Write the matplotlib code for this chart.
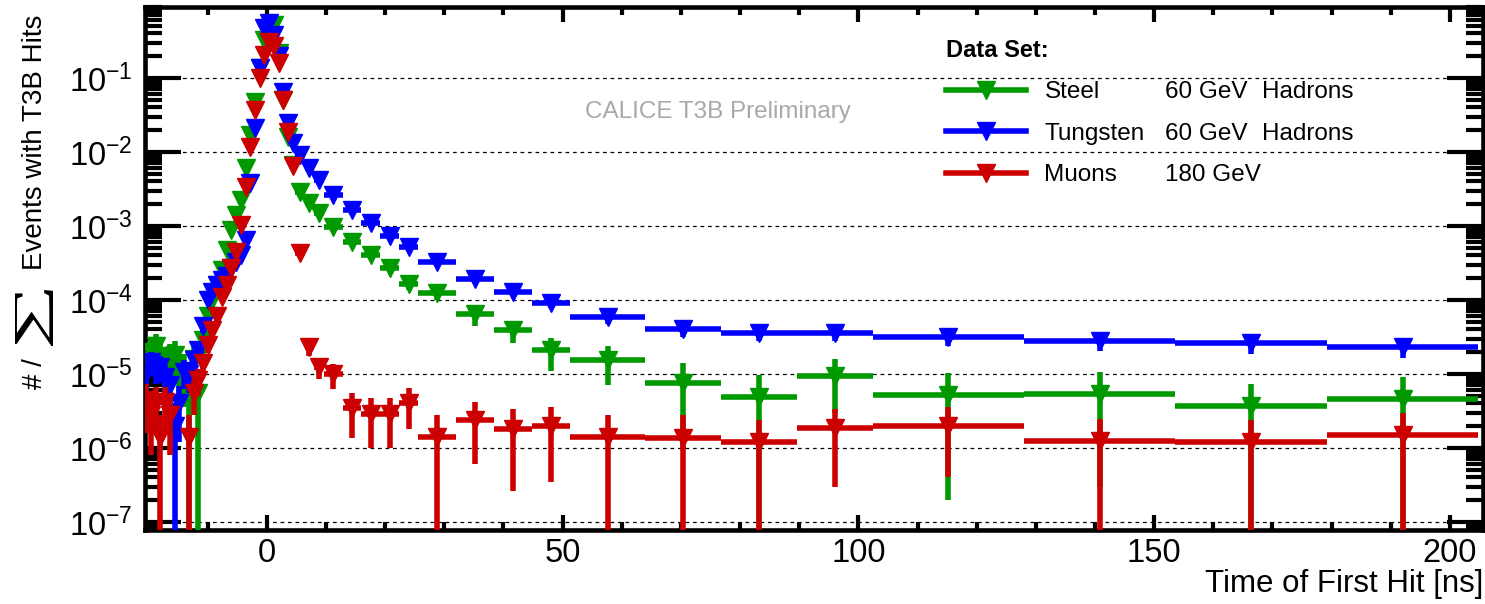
import numpy as np
import matplotlib
matplotlib.use("Agg")
import matplotlib.pyplot as plt
from matplotlib.lines import Line2D
from matplotlib.patches import PathPatch
from matplotlib.textpath import TextPath
from matplotlib.font_manager import FontProperties
from matplotlib.transforms import Affine2D
from matplotlib.ticker import MultipleLocator, FixedLocator, NullFormatter

plt.rcParams['font.family'] = ['Liberation Sans', 'DejaVu Sans']
plt.rcParams['mathtext.fontset'] = 'custom'
plt.rcParams['mathtext.rm'] = 'Liberation Sans'
plt.rcParams['mathtext.it'] = 'Liberation Sans:italic'
plt.rcParams['mathtext.bf'] = 'Liberation Sans:bold'
plt.rcParams['axes.unicode_minus'] = False

# --- bin edges of the variable-width histogram [ns] ---
edges = [-20.8, -20.0, -19.2, -18.4, -17.6, -16.8, -16.0, -15.2, -14.4, -13.6,
         -12.8, -12.0, -11.2, -10.4, -9.6, -8.8, -8.0, -7.2, -6.4, -5.6,
         -4.8, -4.0, -3.2, -2.4, -1.6, -0.8, 0.0, 0.8, 1.6, 2.4, 3.2, 4.0, 4.8,
         6.4, 8.0, 9.6, 12.8, 16.0, 19.2, 22.4, 25.6, 32.0, 38.4, 44.8, 51.2,
         64.0, 76.8, 89.6, 102.4, 128.0, 153.6, 179.2, 204.8]

# --- Steel, 60 GeV hadrons ---
steel = [1.22e-5, 2.0e-5, 2.42e-5, 1.77e-5, 1.47e-5, 1.67e-5, 1.83e-5, 1.1e-5,
         1.1e-5, 5.5e-6, 1.6e-5, 5.5e-6, 2.9e-5, 6.0e-5, 1.01e-4, 1.61e-4,
         2.56e-4, 4.77e-4, 8.9e-4, 1.41e-3, 2.25e-3, 6.07e-3, 1.69e-2, 4.71e-2,
         0.135, 0.322, 0.47, 0.513, 0.215, 0.0501, 0.0158, 0.00665,
         2.88e-3, 2.05e-3, 1.5e-3, 9.7e-4, 6.1e-4, 4.08e-4, 2.73e-4, 1.66e-4,
         1.26e-4, 6.4e-5, 3.9e-5, 2.1e-5, 1.56e-5, 7.6e-6, 4.9e-6, 9.5e-6,
         5.2e-6, 5.4e-6, 3.7e-6, 4.6e-6]
steel_err = [7.8e-6, 1.0e-5, 1.1e-5, 9.4e-6, 8.6e-6, 9.1e-6, 9.6e-6, 7.4e-6,
             7.4e-6, 5.5e-6, 8.9e-6, 5.5e-6, 1.2e-5, 1.7e-5, 2.2e-5, 2.8e-5,
             3.6e-5, 4.9e-5, 6.7e-5, 8.4e-5, 1.1e-4, 1.7e-4, 2.9e-4, 4.9e-4,
             8.2e-4, 1.3e-3, 1.5e-3, 1.6e-3, 1.0e-3, 5.0e-4, 2.8e-4, 1.8e-4,
             1.2e-4, 1.0e-4, 8.7e-5, 7.0e-5, 5.5e-5, 4.5e-5, 3.7e-5, 2.9e-5,
             2.5e-5, 1.9e-5, 1.3e-5, 1.0e-5, 8.4e-6, 6.6e-6, 4.9e-6, 6.5e-6,
             5.0e-6, 5.1e-6, 3.7e-6, 4.6e-6]

# --- Tungsten, 60 GeV hadrons ---
tungsten = [1.0e-5, 1.47e-5, 1.22e-5, 1.25e-5, 9.0e-6, 7.2e-6, 2.0e-6, 4.0e-6,
            1.08e-5, 1.0e-5, 1.57e-5, 2.14e-5, 4.5e-5, 1.01e-4, 1.29e-4, 1.61e-4,
            1.88e-4, 2.1e-4, 2.73e-4, 3.3e-4, 4.08e-4, 6.5e-4, 3.81e-3, 0.021,
            0.135, 0.47, 0.56, 0.38, 0.20, 0.064, 0.0245, 0.0132,
            0.0091, 0.0061, 0.0042, 0.0026, 1.64e-3, 1.1e-3, 7.4e-4, 5.25e-4,
            3.3e-4, 1.95e-4, 1.29e-4, 9.1e-5, 5.9e-5, 4.07e-5, 3.6e-5, 3.6e-5,
            3.2e-5, 2.8e-5, 2.6e-5, 2.34e-5]
tungsten_err = [4.5e-6, 5.4e-6, 4.9e-6, 5.0e-6, 4.2e-6, 3.8e-6, 2.0e-6, 2.8e-6,
                4.6e-6, 4.5e-6, 5.6e-6, 6.5e-6, 9.5e-6, 1.4e-5, 1.6e-5, 1.8e-5,
                1.9e-5, 2.0e-5, 2.3e-5, 2.6e-5, 2.9e-5, 3.6e-5, 8.7e-5, 2.0e-4,
                5.2e-4, 9.7e-4, 1.1e-3, 8.7e-4, 6.3e-4, 3.6e-4, 2.2e-4, 1.6e-4,
                1.3e-4, 1.1e-4, 9.2e-5, 7.2e-5, 5.7e-5, 4.7e-5, 3.8e-5, 3.2e-5,
                2.6e-5, 2.0e-5, 1.6e-5, 1.35e-5, 1.1e-5, 9.0e-6, 8.5e-6, 8.5e-6,
                8.0e-6, 7.5e-6, 7.2e-6, 6.8e-6]

# --- Muons, 180 GeV ---
nan = np.nan
muons = [4.5e-6, 2.8e-6, 4.2e-6, 1.4e-6, 4.2e-6, 2.8e-6, nan, nan,
         nan, 1.4e-6, 5.6e-6, 8.4e-6, 1.4e-5, 2.5e-5, 3.9e-5, 6.0e-5,
         1.1e-4, 1.6e-4, 2.73e-4, 4.5e-4, 1.04e-3, 3.36e-3, 0.0116, 0.0367,
         0.099, 0.202, 0.303, 0.27, 0.158, 0.050, 0.0185, 0.00645,
         4.35e-4, 2.3e-5, 1.24e-5, 1.0e-5, 3.47e-6, 2.9e-6, 2.9e-6, 4.1e-6,
         1.4e-6, 2.4e-6, 1.83e-6, 1.98e-6, 1.4e-6, 1.38e-6, 1.2e-6, 1.85e-6,
         2.0e-6, 1.25e-6, 1.2e-6, 1.5e-6]
muons_err = [2.9e-6, 2.0e-6, 2.4e-6, 1.4e-6, 2.4e-6, 2.0e-6, nan, nan,
             nan, 1.4e-6, 2.8e-6, 3.4e-6, 4.4e-6, 5.9e-6, 7.4e-6, 9.2e-6,
             1.2e-5, 1.5e-5, 2.0e-5, 2.5e-5, 3.8e-5, 6.9e-5, 1.3e-4, 2.3e-4,
             3.7e-4, 5.3e-4, 6.5e-4, 6.1e-4, 4.7e-4, 2.6e-4, 1.6e-4, 9.5e-5,
             2.5e-5, 5.7e-6, 3.9e-6, 3.8e-6, 2.1e-6, 1.9e-6, 1.9e-6, 2.3e-6,
             1.4e-6, 1.8e-6, 1.57e-6, 1.63e-6, 1.4e-6, 1.38e-6, 1.2e-6, 1.55e-6,
             1.6e-6, 1.25e-6, 1.2e-6, 1.5e-6]

names = ['Steel', 'Tungsten', 'Muons']
energies = ['60 GeV', '60 GeV', '180 GeV']
particles = ['Hadrons', 'Hadrons', '']
colors = ['#009900', '#0000ff', '#cc0000']
y_decades = [1e-7, 1e-6, 1e-5, 1e-4, 1e-3, 1e-2, 1e-1]

edges = np.array(edges)
centers = 0.5 * (edges[:-1] + edges[1:])
half_w = 0.5 * (edges[1:] - edges[:-1])

fig = plt.figure(figsize=(14.85, 6.04), dpi=100)
ax = fig.add_axes([145 / 1485, 1 - 530 / 604, 1338 / 1485, 523 / 604])
ax.set_yscale('log')

series = [(steel, steel_err), (tungsten, tungsten_err), (muons, muons_err)]
for k, ((vals, errs), col) in enumerate(zip(series, colors)):
    v = np.array(vals)
    e = np.array(errs)
    m = ~np.isnan(v)
    v, e, x, xe = v[m], e[m], centers[m], half_w[m]
    low = np.minimum(e, v - 1e-12)   # bars that reach zero run to the frame
    ax.errorbar(x, v, yerr=[low, e], xerr=xe, fmt='v', color=col, mec=col,
                ms=13, elinewidth=4, capsize=0, zorder=3 + k)

ax.set_xlim(-20.6, 205.6)
ax.set_ylim(7.8e-8, 0.91)

ax.xaxis.set_major_locator(MultipleLocator(50))
ax.xaxis.set_minor_locator(MultipleLocator(10))
minor_y = [m * d for d in [1e-8] + y_decades for m in range(2, 10)]
ax.yaxis.set_major_locator(FixedLocator(y_decades))
ax.yaxis.set_minor_locator(FixedLocator([t for t in minor_y if 7.8e-8 < t < 0.91]))
ax.yaxis.set_minor_formatter(NullFormatter())

ax.yaxis.grid(True, which='major', linestyle=(0, (3, 3)), color='black', lw=0.9)
ax.set_axisbelow(True)

for s in ax.spines.values():
    s.set_linewidth(3.3)
ax.tick_params(which='both', direction='in', top=True, right=True, width=3,
               labelsize=23.5)
ax.tick_params(axis='y', which='major', length=26, pad=9)
ax.tick_params(axis='y', which='minor', length=12)
ax.tick_params(axis='x', which='major', length=11, pad=6)
ax.tick_params(axis='x', which='minor', length=6)

ax.set_xlabel('Time of First Hit [ns]', loc='right', fontsize=22.5, labelpad=0)

# y label built from pieces; the summation sign is drawn wide like ROOT's #sum
fig.text(35 / 1485, 1 - 142 / 604, 'Events with T3B Hits', rotation=90,
         ha='center', va='center', fontsize=20)
fig.text(35 / 1485, 1 - 374 / 604, '# /', rotation=90, ha='center',
         va='center', fontsize=20)
sig = TextPath((0, 0), '\u2211', size=1, prop=FontProperties(family='Liberation Serif'))
ext = sig.get_extents()
sig_tr = (Affine2D()
          .translate(-(ext.x0 + ext.x1) / 2, -(ext.y0 + ext.y1) / 2)
          .scale(56 / ext.width, 38 / ext.height)
          .rotate_deg(90)
          .translate(34, 604 - 318))
fig.add_artist(PathPatch(sig, transform=sig_tr, color='black', lw=0))

ax.text(0.428, 0.80, 'CALICE T3B Preliminary', transform=ax.transAxes,
        ha='center', va='center', fontsize=17.5, color='#a8a8a8')

handles = [Line2D([], [], color=c, lw=4, marker='v', ms=13) for c in colors]
leg = ax.legend(handles, names, loc='upper left',
                bbox_to_anchor=(946 / 1485, 1 - 39 / 604),
                bbox_transform=fig.transFigure, frameon=False,
                title='Data Set:', title_fontproperties={'weight': 'bold', 'size': 17},
                fontsize=17.5, handlelength=3.3, handletextpad=0.75,
                labelspacing=0.8, alignment='left', borderaxespad=0, borderpad=0)

fig.canvas.draw()
inv = fig.transFigure.inverted()
for txt, en, pa in zip(leg.get_texts(), energies, particles):
    bb = txt.get_window_extent()
    yc = inv.transform((0, 0.5 * (bb.y0 + bb.y1)))[1]
    fig.text(1165 / 1485, yc, en, ha='left', va='center', fontsize=17.5)
    if pa:
        fig.text(1262 / 1485, yc, pa, ha='left', va='center', fontsize=17.5)

fig.savefig('out.png', dpi=100)
